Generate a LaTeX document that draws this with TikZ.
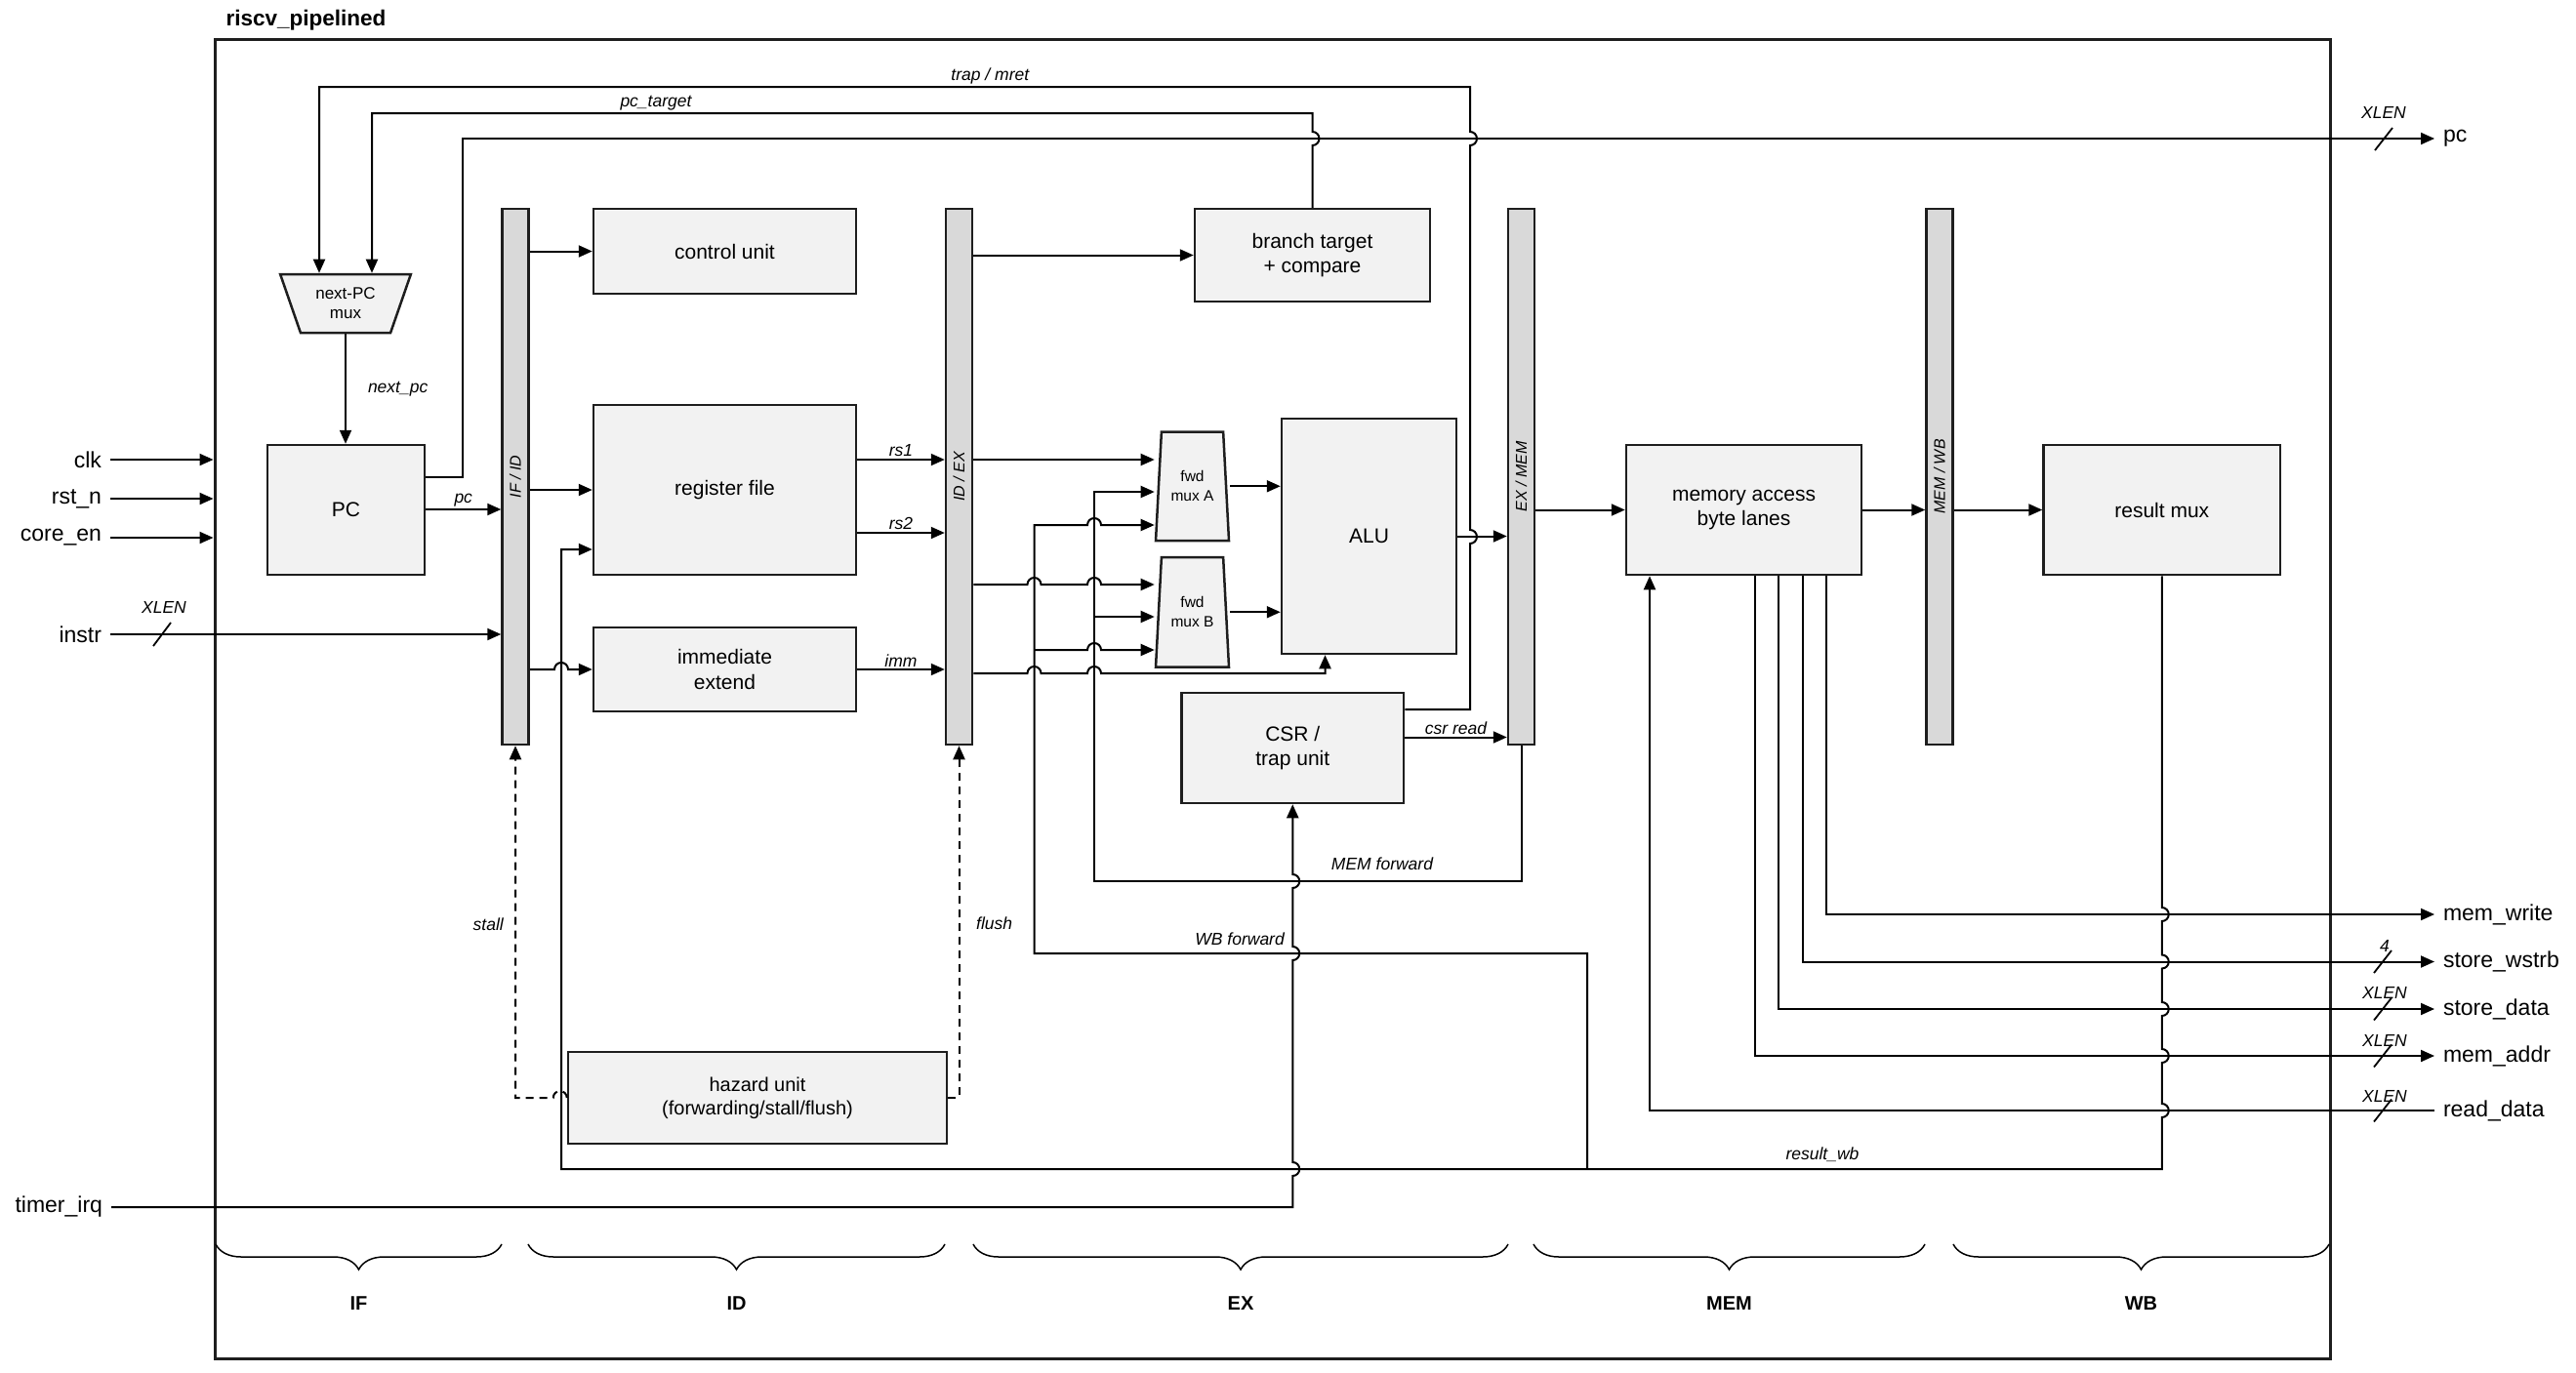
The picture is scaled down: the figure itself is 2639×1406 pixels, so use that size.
\documentclass[tikz,border=0pt]{standalone}
\usepackage{fontspec}
\setmainfont{Liberation Sans}
\usetikzlibrary{arrows.meta,shapes.geometric,decorations.pathreplacing}

\definecolor{boxfill}{HTML}{F2F2F2}
\definecolor{regfill}{HTML}{D9D9D9}
\definecolor{edge}{HTML}{1E1E1E}

\tikzset{
  blk/.style={draw=edge,fill=boxfill,line width=2.5pt,align=center,inner sep=0pt,
    font=\fontsize{21}{25.5}\selectfont},
  pipereg/.style={draw=edge,fill=regfill,line width=2.5pt,minimum width=27pt,
    minimum height=549pt,inner sep=0pt},
  regtxt/.style={rotate=90,font=\fontsize{16}{18}\selectfont\itshape},
  muxbox/.style={draw=edge,fill=boxfill,line width=2.5pt,trapezium,trapezium stretches=true,
    align=center,inner sep=0pt,font=\fontsize{15.5}{20}\selectfont},
  wire/.style={line width=2pt},
  arr/.style={wire,-{Triangle[length=14pt,width=12pt]}},
  ctl/.style={arr,dash pattern=on 8pt off 6pt},
  sig/.style={font=\fontsize{17.5}{20}\selectfont\itshape,inner sep=2pt},
  port/.style={font=\fontsize{23}{26}\selectfont,inner sep=0pt,outer sep=9pt},
  phase/.style={font=\fontsize{20}{24}\selectfont\bfseries},
  bus/.style={line width=1.8pt},
  stagebrace/.style={decorate,decoration={brace,mirror,amplitude=26pt},line width=1.5pt},
}
% line hops over a crossing wire
\newcommand{\jr}{arc[start angle=180,end angle=360,radius=7]}
\newcommand{\jl}{arc[start angle=0,end angle=-180,radius=7]}
\newcommand{\jd}{arc[start angle=-90,end angle=90,radius=7]}
\newcommand{\ju}{arc[start angle=90,end angle=-90,radius=7]}

\begin{document}
\begin{tikzpicture}[x=1pt,y=-1pt]
  \useasboundingbox (0,0) rectangle (2639,1406);

  % frame
  \node[draw=edge,line width=3pt,minimum width=2167pt,minimum height=1352pt] (core) at (1303.5,716) {};
  \node[anchor=west,font=\fontsize{22.5}{26}\selectfont\bfseries] (title) at (228,21) {riscv\_pipelined};

  % blocks
  \node[muxbox,shape border rotate=180,trapezium angle=66.6,minimum width=134pt,minimum height=60pt,
    font=\fontsize{17}{20}\selectfont] (npcmux) at (354,311) {next-PC\\mux};
  \node[blk,minimum width=161pt,minimum height=133pt] (pc) at (354.5,522.5) {PC};
  \node[pipereg] (ifid) at (528,488.5) {};
  \node[blk,minimum width=269pt,minimum height=87pt] (ctrl) at (742.5,257.5) {control unit};
  \node[blk,minimum width=269pt,minimum height=174pt] (regfile) at (742.5,502) {register file};
  \node[blk,minimum width=269pt,minimum height=86pt] (immext) at (742.5,686) {immediate\\extend};
  \node[pipereg] (idex) at (982.5,488.5) {};
  \node[blk,minimum width=241pt,minimum height=95pt] (brtgt) at (1344.5,261.5) {branch target\\+ compare};
  \node[muxbox,trapezium angle=82.6,minimum width=75pt,minimum height=111.5pt] (fwda) at (1221.5,498.25) {fwd\\mux A};
  \node[muxbox,trapezium angle=82.6,minimum width=75pt,minimum height=112.5pt] (fwdb) at (1221.5,627.25) {fwd\\mux B};
  \node[blk,minimum width=179pt,minimum height=241pt] (alu) at (1402.5,549.5) {ALU};
  \node[blk,minimum width=227.5pt,minimum height=113pt] (csr) at (1324.25,766.5) {CSR /\\trap unit};
  \node[pipereg] (exmem) at (1558.5,488.5) {};
  \node[blk,minimum width=241pt,minimum height=133pt] (memacc) at (1786.5,522.5) {memory access\\byte lanes};
  \node[pipereg] (memwb) at (1987,488.5) {};
  \node[blk,minimum width=242.5pt,minimum height=133pt] (resmux) at (2214.75,522.5) {result mux};
  \node[blk,minimum width=388pt,minimum height=94pt,font=\fontsize{20}{24}\selectfont] (hazard) at (776,1125) {hazard unit\\(forwarding/stall/flush)};

  \node[regtxt] at (ifid) {IF / ID};
  \node[regtxt] at (idex) {ID / EX};
  \node[regtxt] at (exmem) {EX / MEM};
  \node[regtxt] at (memwb) {MEM / WB};

  % ports
  \node[port,anchor=east] (clk) at (113,471) {clk};
  \node[port,anchor=east] (rstn) at (113,511) {rst\_n};
  \node[port,anchor=east] (coreen) at (113,551) {core\_en};
  \node[port,anchor=east] (instr) at (113,650) {instr};
  \node[port,anchor=east] (tirq) at (114,1237) {timer\_irq};
  \node[port,anchor=west] (pcport) at (2494,142) {pc};
  \node[port,anchor=west] (mwport) at (2494,937) {mem\_write};
  \node[port,anchor=west] (wsport) at (2494,985.5) {store\_wstrb};
  \node[port,anchor=west] (sdport) at (2494,1034) {store\_data};
  \node[port,anchor=west] (maport) at (2494,1082) {mem\_addr};
  \node[port,anchor=west] (rdport) at (2494,1138) {read\_data};

  % inputs
  \draw[arr] (clk.east) -- (clk.east -| core.west);
  \draw[arr] (rstn.east) -- (rstn.east -| core.west);
  \draw[arr] (coreen.east) -- (coreen.east -| core.west);
  \draw[arr] (instr.east) -- (instr.east -| ifid.west);
  \draw[bus] (157,662) -- (175,638);
  \node[sig] at (168,622) {XLEN};
  \draw[arr] (tirq.east) -- (tirq.east -| csr.south) -- (csr.south |- 0,1205) \ju
    -- (csr.south |- 0,984) \ju -- (csr.south |- 0,910) \ju -- (csr.south);

  % fetch
  \draw[arr] (pc.east |- 0,489) -| (474,142) -- (pcport.west);
  \draw[bus] (2433,154) -- (2451,131);
  \node[sig] at (2442,115) {XLEN};
  \draw[arr] (csr.east |- 0,727) -- (1506,727) -- (1506,557) \ju -- (1506,149) \ju -- (1506,89)
    -- (327,89) node[sig,above,pos=.417] {trap / mret} -- (npcmux.north -| 327,0);
  \draw[arr] (brtgt.north) -- (brtgt.north |- 0,149) \ju -- (brtgt.north |- 0,116)
    -- (381,116) node[sig,above,pos=.698] {pc\_target} -- (npcmux.north -| 381,0);
  \draw[arr] (npcmux.south) -- (npcmux.south |- pc.north) node[sig,midway,right=20pt] {next\_pc};
  \draw[arr] (pc.east |- 0,522) -- (ifid.west |- 0,522) node[sig,above,midway] {pc};

  % decode
  \draw[arr] (ifid.east |- ctrl.west) -- (ctrl.west);
  \draw[arr] (ifid.east |- regfile.west) -- (regfile.west);
  \draw[arr] (ifid.east |- immext.west) -- (568,686) \jr -- (immext.west);
  \draw[arr] (regfile.east |- 0,471) -- (idex.west |- 0,471) node[sig,above,midway] {rs1};
  \draw[arr] (regfile.east |- 0,546) -- (idex.west |- 0,546) node[sig,above,midway] {rs2};
  \draw[arr] (immext.east) -- (idex.west |- immext.east) node[sig,above,midway] {imm};

  % execute
  \draw[arr] (idex.east |- brtgt.west) -- (brtgt.west);
  \draw[arr] (idex.east |- 0,471) -- (fwda.bottom left corner |- 0,471);
  \draw[arr] (idex.east |- 0,599) -- (1052.5,599) \jr -- (1114,599) \jr -- (fwdb.bottom left corner |- 0,599);
  \draw[arr] (idex.east |- 0,690) -- (1052.5,690) \jr -- (1114,690) \jr -- (1357.5,690) -- (alu.south -| 1357.5,0);
  \draw[arr] (fwda.bottom right corner |- fwda.center) -- (alu.west |- fwda.center);
  \draw[arr] (fwdb.bottom right corner |- fwdb.center) -- (alu.west |- fwdb.center);
  \draw[arr] (alu.east) -- (exmem.west |- alu.east);
  \draw[arr] (csr.east |- 0,755.5) -- (exmem.west |- 0,755.5) node[sig,above,midway] {csr read};

  % forwarding
  \draw[arr] (exmem.south) |- (1121,903) -- (1121,504) -- (fwda.bottom left corner |- 0,504);
  \draw[arr] (1121,632) -- (fwdb.bottom left corner |- 0,632);
  \node[sig] at (1416,885) {MEM forward};
  \coordinate (wbtap) at (1626,1198);
  \draw[arr] (wbtap) -- (1626,977) -- (1059.5,977) -- (1059.5,538) -- (1114,538) \jr
    -- (fwda.bottom left corner |- 0,538);
  \draw[arr] (1059.5,666) -- (1114,666) \jr -- (fwdb.bottom left corner |- 0,666);
  \node[sig,anchor=east] at (1318,962) {WB forward};

  % memory / writeback
  \draw[arr] (exmem.east |- memacc.west) -- (memacc.west);
  \draw[arr] (memacc.east) -- (memwb.west |- memacc.east);
  \draw[arr] (memwb.east |- resmux.west) -- (resmux.west);
  \draw[arr] (memacc.south -| 1871,0) |- (mwport.west);
  \draw[arr] (memacc.south -| 1847,0) |- (wsport.west);
  \draw[arr] (memacc.south -| 1822,0) |- (sdport.west);
  \draw[arr] (memacc.south -| 1798,0) |- (maport.west);
  \draw[arr] (rdport.west) -| (memacc.south -| 1690,0);
  \draw[bus] (2432,997) -- (2450,974);
  \node[sig] at (2443,969) {4};
  \draw[bus] (2432,1045.5) -- (2450,1022.5);
  \node[sig] at (2443,1017) {XLEN};
  \draw[bus] (2432,1093.5) -- (2450,1070.5);
  \node[sig] at (2443,1066) {XLEN};
  \draw[bus] (2432,1149.5) -- (2450,1126.5);
  \node[sig] at (2443,1123) {XLEN};
  \draw[arr] (resmux.south) -- (resmux.south |- 0,930) \jd -- (resmux.south |- 0,978.5) \jd
    -- (resmux.south |- 0,1027) \jd -- (resmux.south |- 0,1075) \jd -- (resmux.south |- 0,1131) \jd
    -- (resmux.south |- wbtap) -- (575,1198) -- (575,563) -- (regfile.west |- 0,563);
  \node[sig] at (1867,1183) {result\_wb};

  % hazard control
  \draw[ctl] (hazard.west) \jl -- (ifid.south |- hazard.west) -- (ifid.south);
  \node[sig,anchor=east] at (518,947) {stall};
  \draw[ctl] (hazard.east) -| (idex.south);
  \node[sig,anchor=west] at (998,946) {flush};

  % stages
  \draw[stagebrace] (221,1275) -- (514,1275) node[phase,midway,yshift=-61pt] {IF};
  \draw[stagebrace] (541,1275) -- (968,1275) node[phase,midway,yshift=-61pt] {ID};
  \draw[stagebrace] (997,1275) -- (1545,1275) node[phase,midway,yshift=-61pt] {EX};
  \draw[stagebrace] (1571,1275) -- (1972,1275) node[phase,midway,yshift=-61pt] {MEM};
  \draw[stagebrace] (2001,1275) -- (2386,1275) node[phase,midway,yshift=-61pt] {WB};
\end{tikzpicture}
\end{document}
